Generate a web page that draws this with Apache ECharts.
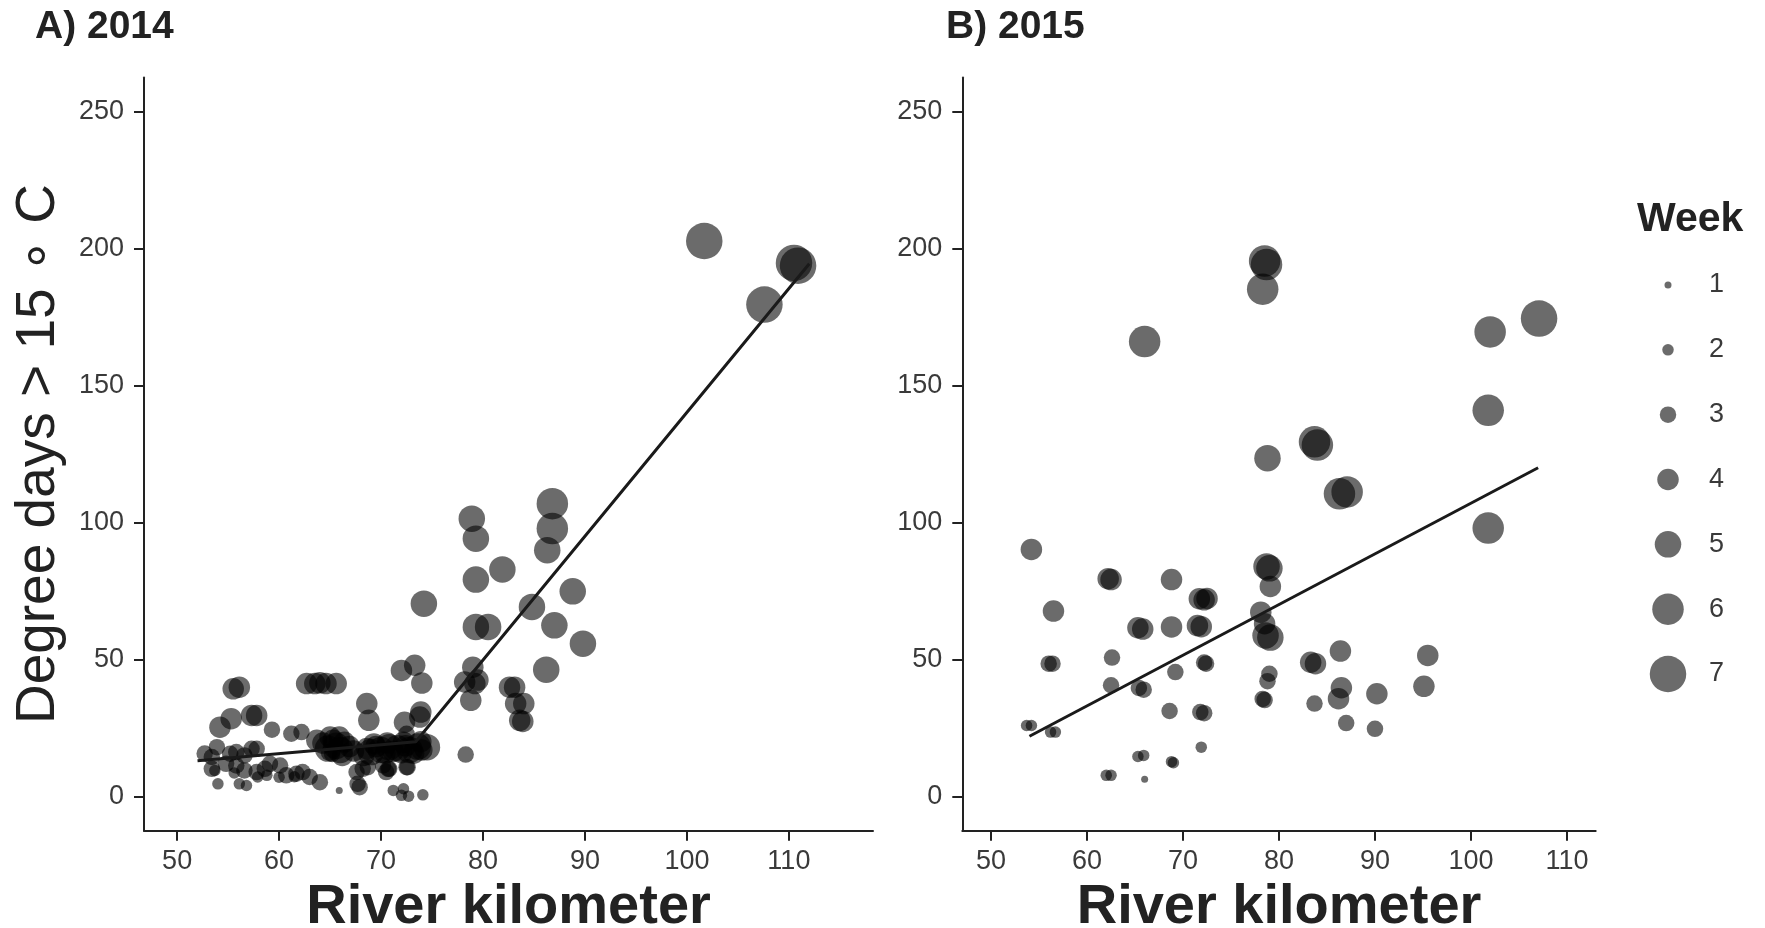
<!DOCTYPE html>
<html>
<head>
<meta charset="utf-8">
<script src="https://cdn.jsdelivr.net/npm/echarts@6/dist/echarts.min.js"></script>
<style>
  html, body { margin: 0; padding: 0; background: #ffffff; }
  #chart { width: 1765px; height: 928px; }
</style>
</head>
<body>
<div id="chart"></div>
<script>
// ---- data: [river km, degree days > 15 C, week] ----
const obs2014 = [
  [101.7, 202.8, 7], [110.5, 194.8, 7], [110.9, 193.8, 7], [107.6, 179.6, 7],
  [86.8, 106.9, 6], [86.8, 97.8, 6], [86.3, 89.9, 5], [78.9, 101.4, 5],
  [79.3, 94.1, 5], [81.9, 82.9, 5], [79.3, 79.2, 5], [88.8, 74.9, 5],
  [74.2, 70.4, 5], [84.8, 69.2, 5], [79.3, 61.9, 5], [80.5, 61.9, 5],
  [87.0, 62.5, 5], [89.8, 55.8, 5], [86.2, 46.3, 5],
  [79.0, 47.2, 4], [79.2, 41.2, 4], [78.2, 41.8, 4], [78.8, 35.1, 4], [79.5, 42.5, 4],
  [82.6, 39.9, 4], [83.1, 39.9, 4], [83.2, 33.9, 4], [84.0, 33.9, 4],
  [83.6, 27.8, 4], [83.9, 27.4, 4],
  [72.0, 46.0, 4], [73.3, 47.9, 4], [74.0, 41.4, 4],
  [72.3, 27.1, 4], [73.8, 29.0, 4], [73.9, 30.8, 4],
  [78.3, 15.3, 3], [72.5, 10.7, 3], [70.7, 10.1, 3],
  [71.2, 2.2, 2], [72.2, 2.8, 2], [72.0, 0.4, 2], [72.7, 0.1, 2], [74.1, 0.6, 2],
  [55.5, 39.3, 4], [56.1, 39.9, 4],
  [62.7, 41.2, 4], [63.5, 41.2, 4], [64.0, 41.5, 4], [64.6, 41.2, 4], [65.6, 41.2, 4],
  [68.6, 33.9, 4], [68.8, 27.8, 4],
  [55.3, 28.4, 4], [54.2, 25.3, 4], [57.3, 29.6, 4], [57.8, 29.6, 4],
  [59.3, 24.4, 3], [61.2, 22.9, 3], [62.2, 23.5, 3], [72.5, 22.9, 3],
  [63.7, 20.5, 4], [65.0, 21.7, 4], [65.9, 21.7, 4],
  [64.3, 19.5, 4], [64.8, 17.5, 5], [65.3, 20.5, 4], [65.6, 18.5, 5], [66.0, 17.0, 5],
  [66.4, 19.8, 4], [66.9, 18.2, 4], [67.3, 16.6, 4], [65.2, 15.5, 3], [66.2, 15.0, 4],
  [64.9, 16.0, 3],
  [68.6, 17.5, 4], [69.0, 16.2, 5], [69.5, 18.2, 4], [70.0, 17.0, 5], [70.4, 15.8, 4],
  [70.8, 18.0, 5], [71.2, 16.5, 4], [71.6, 17.6, 5], [72.0, 16.0, 4], [72.4, 18.5, 4],
  [72.8, 17.0, 5], [73.2, 15.8, 4], [73.6, 18.2, 5], [74.0, 17.0, 4], [74.5, 18.0, 5],
  [69.3, 19.2, 4], [70.6, 19.5, 4], [72.2, 19.8, 4], [73.9, 20.0, 4], [68.3, 15.0, 4],
  [52.7, 15.7, 3], [53.9, 18.0, 3], [53.4, 14.4, 3],
  [55.2, 15.6, 3], [55.8, 16.2, 3], [56.6, 15.0, 3], [57.3, 17.4, 3], [57.8, 17.4, 3],
  [53.4, 10.1, 3], [53.7, 9.5, 2], [54.8, 11.9, 3], [55.8, 11.3, 3], [56.6, 9.5, 3],
  [57.8, 8.9, 3], [58.6, 10.1, 3], [59.1, 11.9, 3], [60.1, 11.3, 3], [60.7, 7.7, 3],
  [61.7, 8.3, 3], [62.3, 8.9, 3], [63.0, 7.1, 3], [64.0, 5.2, 3],
  [60.0, 7.0, 2], [61.5, 7.2, 2], [55.6, 8.6, 2],
  [57.9, 7.1, 2], [58.8, 7.7, 2],
  [54.0, 4.6, 2], [56.1, 4.6, 2], [56.8, 4.0, 2], [65.9, 2.2, 1],
  [67.6, 8.9, 3], [68.2, 10.1, 3], [68.7, 10.7, 3], [67.9, 3.4, 3], [67.7, 4.6, 3],
  [70.2, 11.3, 3], [70.8, 10.1, 3], [70.5, 8.9, 3], [72.6, 10.7, 3]
];

const obs2015 = [
  [78.5, 195.5, 6], [78.7, 194.2, 6], [78.3, 185.2, 6], [66.0, 166.1, 6],
  [102.0, 169.6, 6], [107.1, 174.5, 7], [101.8, 141.0, 6], [101.8, 98.0, 6],
  [83.7, 129.5, 6], [84.0, 128.3, 6], [86.3, 110.5, 6], [87.1, 111.2, 6],
  [78.8, 123.5, 5], [54.2, 90.2, 4], [62.2, 79.5, 4], [62.5, 79.2, 4],
  [68.8, 79.2, 4], [56.5, 67.7, 4], [71.7, 72.2, 4], [72.2, 71.8, 4], [72.5, 72.3, 4],
  [78.7, 84.0, 5], [79.0, 83.3, 5], [79.1, 76.7, 4], [78.1, 67.3, 4], [78.5, 63.1, 4],
  [78.6, 58.8, 5], [79.1, 58.0, 5], [65.3, 61.6, 4], [65.8, 61.1, 4], [68.8, 61.9, 4],
  [71.5, 62.4, 4], [71.9, 62.0, 4],
  [56.0, 48.5, 3], [56.4, 48.5, 3], [62.6, 50.7, 3], [69.2, 45.4, 3], [72.2, 48.9, 3],
  [72.4, 48.5, 3], [62.5, 40.6, 3], [65.4, 39.6, 3], [65.9, 39.0, 3], [68.6, 31.2, 3],
  [71.8, 30.8, 3], [72.2, 30.4, 3], [79.0, 44.8, 3], [78.8, 42.1, 3], [78.3, 35.6, 3],
  [78.5, 35.2, 3],
  [83.3, 49.0, 4], [83.8, 48.5, 4], [86.4, 53.1, 4], [86.5, 39.7, 4], [86.2, 35.7, 4],
  [83.7, 33.9, 3], [87.0, 26.8, 3], [90.2, 37.5, 4], [90.0, 24.7, 3],
  [95.5, 51.5, 4], [95.1, 40.2, 4],
  [53.7, 25.9, 2], [54.2, 25.9, 2], [56.2, 23.5, 2], [56.7, 23.5, 2],
  [65.3, 14.6, 2], [65.9, 15.0, 2], [68.8, 12.7, 2], [69.0, 12.3, 2], [71.9, 18.0, 2],
  [62.0, 7.7, 2], [62.5, 7.7, 2], [66.0, 6.3, 1]
];

// fitted trend lines (piecewise for 2014, straight for 2015)
const fit2014 = [[52.0, 13.0], [73.4, 20.0], [112.0, 194.5]];
const fit2015 = [[54.0, 22.0], [107.0, 120.0]];

const weeks = [1, 2, 3, 4, 5, 6, 7];
const kmTicks = [50, 60, 70, 80, 90, 100, 110];
const ddTicks = [0, 50, 100, 150, 200, 250];
const panelTitles = ['A) 2014', 'B) 2015'];
const xTitle = 'River kilometer';
const yTitle = 'Degree days > 15 \u2218 C';
const legendTitle = 'Week';

// ---- styling ----
const FONT = '"Liberation Sans", Arial, Helvetica, sans-serif';
const INK = '#222222';
const LABEL = '#3a3a3a';
const weekDiameter = [7, 11.5, 16.5, 21.5, 26.5, 31.5, 36.5];
const sizeOf = v => weekDiameter[v[2] - 1];
const pointStyle = { color: '#000000', opacity: 0.58, borderWidth: 0 };

function xAxisFor(grid, min, max) {
  return {
    gridIndex: grid, type: 'value', min: min, max: max,
    axisLine: { show: true, onZero: false, lineStyle: { color: INK, width: 2 } },
    axisTick: { show: true, length: 10, customValues: kmTicks, lineStyle: { color: INK, width: 2 } },
    axisLabel: { customValues: kmTicks, fontSize: 27, color: LABEL, margin: 17, fontFamily: FONT },
    splitLine: { show: false },
    name: xTitle, nameLocation: 'middle', nameGap: 38,
    nameTextStyle: { fontSize: 56, fontWeight: 'bold', color: INK, fontFamily: FONT }
  };
}
function yAxisFor(grid, withTitle) {
  const ax = {
    gridIndex: grid, type: 'value', min: -12.5, max: 262.5,
    axisLine: { show: true, onZero: false, lineStyle: { color: INK, width: 2 } },
    axisTick: { show: true, length: 10, customValues: ddTicks, lineStyle: { color: INK, width: 2 } },
    axisLabel: { customValues: ddTicks, fontSize: 27, color: LABEL, margin: 20, fontFamily: FONT },
    splitLine: { show: false }
  };
  if (withTitle) {
    ax.name = yTitle;
    ax.nameLocation = 'middle';
    ax.nameGap = 78;
    ax.nameTextStyle = { fontSize: 55, color: INK, fontFamily: FONT };
  }
  return ax;
}

const chart = echarts.init(document.getElementById('chart'), null, { renderer: 'canvas' });

chart.setOption({
  backgroundColor: '#ffffff',
  animation: false,
  grid: [
    { left: 144, right: 892, top: 77.5, bottom: 97.3, outerBoundsMode: 'none' },
    { left: 962.3, right: 169.3, top: 77.5, bottom: 97.3, outerBoundsMode: 'none' },
    { left: 1648, width: 40, top: 285, height: 389, outerBoundsMode: 'none' }
  ],
  xAxis: [
    xAxisFor(0, 46.75, 118.25),
    xAxisFor(1, 47, 113),
    { gridIndex: 2, type: 'value', min: -1, max: 1, show: false }
  ],
  yAxis: [
    yAxisFor(0, true),
    yAxisFor(1, false),
    {
      gridIndex: 2, type: 'value', min: 1, max: 7, inverse: true, position: 'right',
      axisLine: { show: false }, axisTick: { show: false }, splitLine: { show: false },
      axisLabel: { customValues: weeks, fontSize: 27, color: LABEL, margin: 21, fontFamily: FONT }
    }
  ],
  graphic: [
    { type: 'text', left: 35, top: 8, style: { text: panelTitles[0], font: 'bold 39px ' + FONT, fill: INK } },
    { type: 'text', left: 946, top: 8, style: { text: panelTitles[1], font: 'bold 39px ' + FONT, fill: INK } },
    { type: 'text', left: 1637, top: 199, style: { text: legendTitle, font: 'bold 41px ' + FONT, fill: INK } }
  ],
  series: [
    {
      type: 'scatter', xAxisIndex: 0, yAxisIndex: 0, data: obs2014,
      symbol: 'circle', symbolSize: sizeOf, itemStyle: pointStyle, z: 2
    },
    {
      type: 'line', xAxisIndex: 0, yAxisIndex: 0, data: fit2014,
      symbol: 'none', lineStyle: { color: '#1a1a1a', width: 3 }, z: 3, silent: true
    },
    {
      type: 'scatter', xAxisIndex: 1, yAxisIndex: 1, data: obs2015,
      symbol: 'circle', symbolSize: sizeOf, itemStyle: pointStyle, z: 2
    },
    {
      type: 'line', xAxisIndex: 1, yAxisIndex: 1, data: fit2015,
      symbol: 'none', lineStyle: { color: '#1a1a1a', width: 3 }, z: 3, silent: true
    },
    {
      type: 'scatter', xAxisIndex: 2, yAxisIndex: 2,
      data: weeks.map(w => [0, w, w]),
      symbol: 'circle', symbolSize: sizeOf, itemStyle: pointStyle, silent: true
    }
  ]
});
</script>
</body>
</html>
